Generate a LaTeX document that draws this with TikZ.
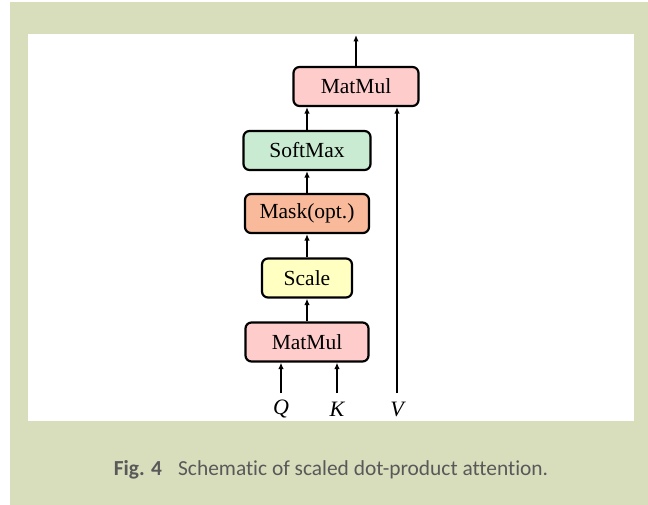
\documentclass[tikz,border=0pt]{standalone}
\usepackage{fontspec}
\setmainfont{Liberation Serif}
\newfontfamily\captionfont[Ligatures=NoCommon]{Carlito}
\usetikzlibrary{arrows.meta}

\definecolor{pagegreen}{HTML}{D8DEBC}
\definecolor{matmulpink}{HTML}{FFCCCC}
\definecolor{softgreen}{HTML}{C8EBD2}
\definecolor{maskorange}{HTML}{F9B99B}
\definecolor{scaleyellow}{HTML}{FFFFC2}
\definecolor{captiongray}{HTML}{595959}

\begin{document}
\begin{tikzpicture}[x=1pt, y=-1pt,
    block/.style={draw=black, line width=2.2pt, rounded corners=6pt,
        minimum height=39pt, inner sep=0pt, font=\fontsize{21.5}{25}\selectfont},
    arr/.style={line width=2pt, -{Latex[length=6.5pt,width=5.5pt]}},
    inlabel/.style={font=\fontsize{22}{26}\selectfont\itshape, inner sep=0pt}]
    % Rahmen
    \useasboundingbox (0,0) rectangle (648,505);
    \fill[pagegreen] (10,2) rectangle (648,505);
    \fill[white] (28,34) rectangle (634,421);

    % Bloecke
    \node[block, fill=matmulpink, minimum width=123pt] (matmulBot) at (307,342) {MatMul};
    \node[block, fill=scaleyellow, minimum width=90pt] (scale) at (307,278) {Scale};
    \node[block, fill=maskorange, minimum width=124pt] (mask) at (307,213.5) {Mask(opt.)};
    \node[block, fill=softgreen, minimum width=127pt] (softmax) at (307,150.5) {SoftMax};
    \node[block, fill=matmulpink, minimum width=125pt] (matmulTop) at (356,86.5) {MatMul};

    % Eingaenge
    \coordinate (qin) at (281,393);
    \coordinate (kin) at (337,393);
    \coordinate (vin) at (397,393);
    \coordinate (out) at (356,35);
    \node[inlabel] (qlab) at (281,409) {Q};
    \node[inlabel] (klab) at (337,409) {K};
    \node[inlabel] (vlab) at (397,409) {V};

    % Pfeile
    \draw[arr] (qin) -- (qin |- matmulBot.south);
    \draw[arr] (kin) -- (kin |- matmulBot.south);
    \draw[arr] (matmulBot.north) -- (scale.south);
    \draw[arr] (scale.north) -- (mask.south);
    \draw[arr] (mask.north) -- (softmax.south);
    \draw[arr] (softmax.north) -- (softmax.north |- matmulTop.south);
    \draw[arr] (vin) -- (vin |- matmulTop.south);
    \draw[arr] (matmulTop.north) -- (out);

    % Bildunterschrift
    \node[font=\captionfont\fontsize{21.4}{25}\selectfont, text=captiongray] (caption) at (331,470)
        {\textbf{Fig. 4}\hspace{0.75em}Schematic of scaled dot-product attention.};
\end{tikzpicture}
\end{document}
